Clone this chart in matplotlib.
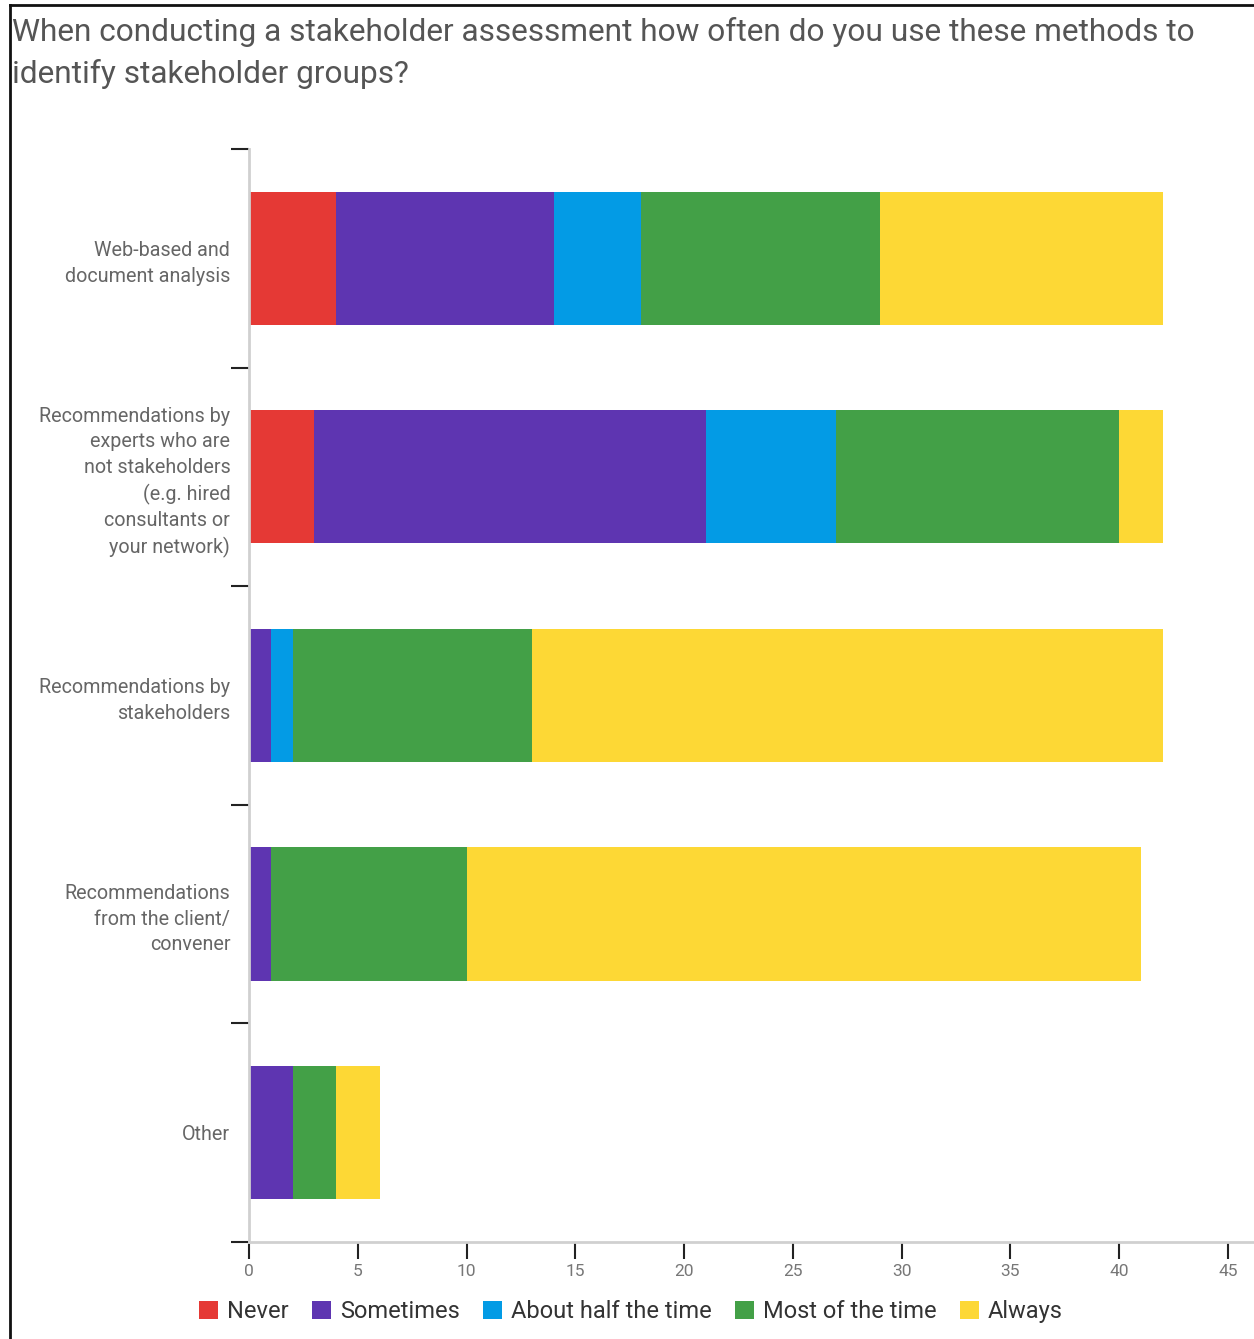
import numpy as np
import matplotlib
matplotlib.use("Agg")
from matplotlib import pyplot as plt
from matplotlib.lines import Line2D
from matplotlib.patches import Patch

plt.rcParams["font.family"] = ["Roboto", "DejaVu Sans"]

methods = [
    "Web-based and\ndocument analysis",
    "Recommendations by\nexperts who are\nnot stakeholders\n(e.g. hired\nconsultants or\nyour network)",
    "Recommendations by\nstakeholders",
    "Recommendations\nfrom the client/\nconvener",
    "Other",
]
responses = ["Never", "Sometimes", "About half the time", "Most of the time", "Always"]
colors = ["#E53935", "#5E35B1", "#039BE5", "#43A047", "#FDD835"]

never = [4, 3, 0, 0, 0]
sometimes = [10, 18, 1, 1, 2]
half_time = [4, 6, 1, 0, 0]
most_time = [11, 13, 11, 9, 2]
always = [13, 2, 29, 31, 2]

title = ("When conducting a stakeholder assessment how often do you use these methods to\n"
         "identify stakeholder groups?")

fig = plt.figure(figsize=(12.54, 13.39), dpi=100)
ax = fig.add_axes([0.1986, 0.0725, 0.8014, 0.8163])

ypos = np.arange(len(methods))
left = np.zeros(len(methods))
for vals, col in zip([never, sometimes, half_time, most_time, always], colors):
    ax.barh(ypos, vals, left=left, height=0.61, color=col, linewidth=0)
    left += np.array(vals)

ax.set_xlim(0, 46.2)
ax.set_ylim(4.5, -0.5)
ax.set_xticks(np.arange(0, 50, 5))
ax.tick_params(axis="x", length=12, width=1.5, color="#222222", labelcolor="#777777",
               labelsize=12.5, pad=4)

# category separators as major ticks, labels on minor ticks at the bar centres
ax.set_yticks(np.arange(-0.5, 5, 1))
ax.set_yticklabels([])
ax.tick_params(axis="y", which="major", length=13, width=1.5, color="#222222")
ax.set_yticks(ypos, minor=True)
ax.set_yticklabels(methods, minor=True, fontsize=14.2, color="#666666", linespacing=1.43)
ax.tick_params(axis="y", which="minor", length=0, pad=13.5)

for side in ["top", "right"]:
    ax.spines[side].set_visible(False)
for side in ["left", "bottom"]:
    ax.spines[side].set_color("#d0d0d0")
    ax.spines[side].set_linewidth(2)

fig.text(0.0096, 0.9875, title, ha="left", va="top", fontsize=22.8, color="#555555",
         linespacing=1.5)

handles = [Patch(facecolor=c, edgecolor="none") for c in colors]
fig.legend(handles, responses, loc="center", bbox_to_anchor=(0.503, 0.0205), ncol=5,
           frameon=False, fontsize=17, handlelength=0.8, handleheight=0.8,
           handletextpad=0.37, columnspacing=1.0, labelcolor="#333333")

# outer frame
fig.add_artist(Line2D([0.008, 1.0], [0.9963, 0.9963], color="#111111", lw=2))
fig.add_artist(Line2D([0.008, 0.008], [0.0, 0.9963], color="#111111", lw=2))

fig.savefig("out.png", dpi=100)
